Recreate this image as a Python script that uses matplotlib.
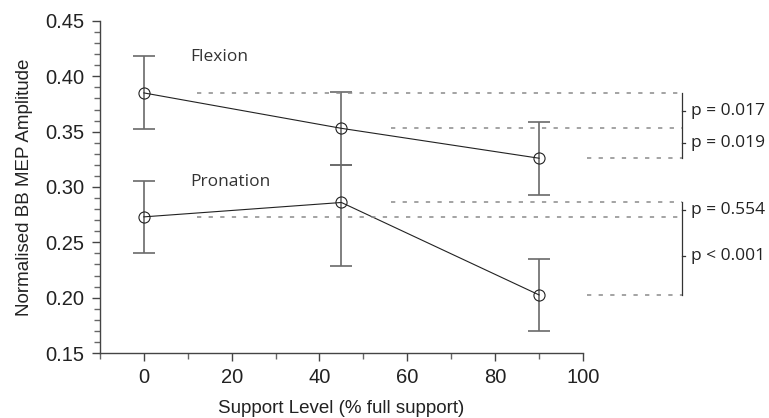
import matplotlib
matplotlib.use("Agg")
import matplotlib.pyplot as plt
from matplotlib.ticker import MultipleLocator

# Data
support = [0, 45, 90]
flexion = [0.385, 0.353, 0.326]
flexion_err = [0.033, 0.033, 0.033]
pronation = [0.273, 0.286, 0.2025]
pronation_err_lo = [0.033, 0.057, 0.033]
pronation_err_hi = [0.032, 0.034, 0.032]

p_labels = ["p = 0.017", "p = 0.019", "p = 0.554", "p < 0.001"]

fig = plt.figure(figsize=(7.69, 4.18), dpi=100)
ax = fig.add_axes([0.130, 0.1555, 0.628, 0.7943])

tick_font = "Liberation Sans"
ann_font = "Open Sans"

ax.errorbar(support, flexion, yerr=flexion_err, fmt="none", ecolor="#6a6a6a",
            elinewidth=1.2, capsize=8, capthick=1.2)
ax.errorbar(support, pronation, yerr=[pronation_err_lo, pronation_err_hi], fmt="none",
            ecolor="#6a6a6a", elinewidth=1.2, capsize=8, capthick=1.2)
for vals in (flexion, pronation):
    ax.plot(support, vals, color="#222222", lw=0.8, marker="o", ms=8,
            mfc="none", mec="#222222", mew=0.8)

ax.set_xlim(-10, 100)
ax.set_ylim(0.15, 0.45)
ax.xaxis.set_major_locator(MultipleLocator(20))
ax.xaxis.set_minor_locator(MultipleLocator(10))
ax.yaxis.set_major_locator(MultipleLocator(0.05))
ax.yaxis.set_minor_locator(MultipleLocator(0.01))
ax.yaxis.set_major_formatter(plt.FormatStrFormatter("%.2f"))
ax.spines["top"].set_visible(False)
ax.spines["right"].set_visible(False)
for s in ("left", "bottom"):
    ax.spines[s].set_color("#444444")
    ax.spines[s].set_linewidth(1.0)
ax.tick_params(which="major", direction="out", length=6, width=1.0, color="#444444",
               labelsize=14.5, pad=5)
ax.tick_params(which="minor", direction="out", length=4, width=1.0, color="#666666")
for lab in ax.get_xticklabels() + ax.get_yticklabels():
    lab.set_fontfamily(tick_font)
    lab.set_color("#222222")

ax.set_xlabel("Support Level (% full support)", fontsize=13.5, fontfamily=tick_font,
              labelpad=9, color="#222222")
ax.set_ylabel("Normalised BB MEP Amplitude", fontsize=13.5, fontfamily=tick_font,
              labelpad=9, color="#222222")

ax.text(10.5, 0.4175, "Flexion", fontsize=12.5, fontfamily=ann_font, color="#333333", va="center")
ax.text(10.5, 0.3045, "Pronation", fontsize=12.5, fontfamily=ann_font, color="#333333", va="center")

# dashed reference lines (start x, level)
dash_kw = dict(color="#8a8a8a", lw=1.1, ls=(0, (2.8, 4.8)), clip_on=False)
bx = 122.5
starts = [12, 56.4, 101]
for xs, yv in zip(starts, flexion):
    ax.plot([xs, bx], [yv, yv], **dash_kw)
for xs, yv in zip(starts, pronation):
    ax.plot([xs, bx], [yv, yv], **dash_kw)

# brackets
br_kw = dict(color="#333333", lw=0.9, clip_on=False)
ax.plot([bx, bx], [flexion[0], flexion[2]], **br_kw)
ax.plot([bx, bx], [pronation[1], pronation[2]], **br_kw)
label_y = [(flexion[0] + flexion[1]) / 2, (flexion[1] + flexion[2]) / 2,
           (pronation[1] + pronation[0]) / 2, (pronation[0] + pronation[2]) / 2]
for yv, txt in zip(label_y, p_labels):
    ax.plot([bx, bx + 0.8], [yv, yv], **br_kw)
    ax.text(bx + 2.1, yv, txt, fontsize=12.5, fontfamily=ann_font, color="#222222",
            va="center", clip_on=False)

fig.savefig("out.png", dpi=100)
